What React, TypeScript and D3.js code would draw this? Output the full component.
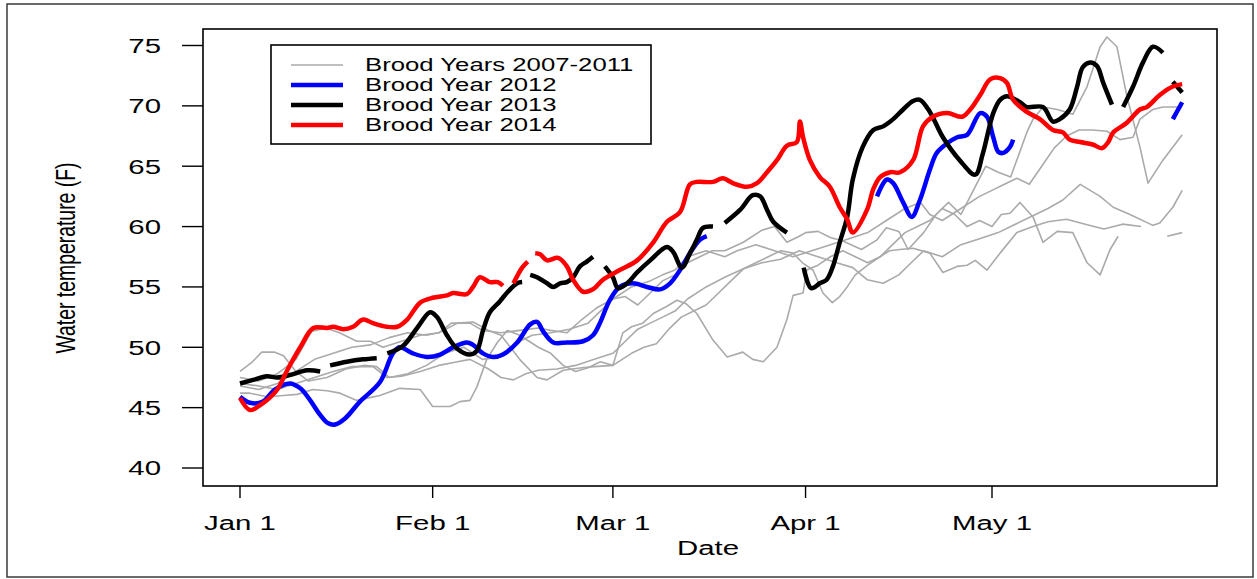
import React from "react";
import * as d3 from "d3";

type Pt = [number, number] | null;

// Day-of-year (0 = Jan 1, leap-year calendar) and water temperature (F)
const dateTickDays = [0, 31, 60, 91, 121];
const dateTickLabels = ["Jan 1", "Feb 1", "Mar 1", "Apr 1", "May 1"];
const tempTicks = [40, 45, 50, 55, 60, 65, 70, 75];

const legendLabels = ["Brood Years 2007-2011", "Brood Year 2012", "Brood Year 2013", "Brood Year 2014"];

const gray2007: Pt[] = [
  [0, 48.0], [2, 48.8], [3.5, 49.6], [5.5, 49.6], [7, 49.3], [9, 48.0], [11, 47.2], [14, 47.5], [17, 48.2],
  [20, 48.5], [22, 48.4], [24, 47.5], [27, 47.8], [30, 48.5], [33, 49.5], [36, 50.0], [39, 49.0], [42, 49.2],
  [45, 50.5], [47, 51.0], [50, 51.2], [53, 51.5], [56, 52.0], [58, 53.0], [60, 54.0], [62, 54.2], [64, 53.5],
  [66, 54.5], [68, 55.5], [70, 56.0], [72, 57.0], [74, 57.5], [76, 58.0], [78, 58.0], [81, 58.7], [84, 59.7],
  [86, 60.0], [88, 58.7], [90, 59.2], [91, 59.5], [93, 59.6], [95, 59.1], [97, 58.8], [100, 58.1], [102.5, 58.9],
  [104, 59.9], [106, 59.6], [107.5, 58.1], [110, 59.5], [112, 61.0], [114, 62.0], [116, 61.0], [118, 63.0],
  [120, 65.0], [122, 64.5], [124, 64.1], [126.6, 67.8], [127.6, 68.9], [129.2, 69.9], [131.5, 69.7], [134, 69.3],
  [136.3, 71.6], [138.4, 74.9], [139.5, 75.7], [141.1, 74.9], [142.7, 70.8], [144.8, 66.6], [146.1, 63.6],
  [148.5, 65.5], [151.6, 67.6],
];
const gray2008: Pt[] = [
  [0, 46.2], [1.6, 46.2], [4.3, 45.9], [7, 46.0], [9.2, 46.1], [11.7, 46.5], [14, 46.4], [16.1, 46.2],
  [18.8, 45.6], [22.5, 46.0], [25.7, 46.6], [29, 46.5], [31, 45.1], [33.8, 45.1], [35.4, 45.5], [37, 45.6],
  [38.1, 46.7], [39.7, 49.0], [41.4, 50.4], [43, 51.4], [45, 51.0], [48, 50.0], [50, 49.5], [52, 48.5], [54, 48.0],
  [56, 48.3], [58, 48.8], [60, 48.5], [61.6, 51.2], [63, 51.7], [64.8, 52.0], [66.5, 52.8], [68.7, 53.4],
  [70.3, 53.9], [71.8, 53.6], [73.5, 52.8], [76.1, 50.6], [78.4, 49.2], [80.9, 49.6], [82.5, 49.0], [84.2, 48.8],
  [86.4, 50.0], [88, 52.3], [89, 54.3], [90.6, 54.5], [91.2, 56.4], [93, 56.8], [95, 57.5], [97, 58.0], [99, 57.5],
  [101, 57.0], [103, 57.5], [104.5, 58.0], [106.2, 58.1], [108.3, 58.2], [111, 57.8], [113.1, 56.2], [115.4, 56.7],
  [117, 56.8], [118.3, 57.2], [120.2, 56.4], [122.3, 57.8], [125, 59.5], [127.6, 60.0], [130, 60.4], [133, 60.6],
  [136, 60.2], [139, 59.8], [142, 60.2], [145, 60.0],
  null,
  [149.2, 59.2], [151.6, 59.5],
];
const gray2009: Pt[] = [
  [0, 47.5], [3, 47.2], [6, 47.8], [9, 49.0], [11.5, 51.3], [13.8, 51.6], [16, 51.2], [18.8, 50.5], [21, 50.5],
  [23, 50.0], [26, 50.5], [29, 51.0], [32, 51.2], [34, 52.0], [37, 52.0], [39, 51.4], [42, 51.2], [45, 51.4],
  [48, 51.6], [50, 51.4], [52.6, 51.2], [55, 52.3], [57.5, 53.3], [60, 54.0], [63, 55.0], [66, 55.5], [68, 56.0],
  [70, 56.4], [72, 57.5], [75, 58.0], [78, 57.5], [80, 58.0], [83, 58.5], [86, 58.0], [89, 57.5], [92, 58.0],
  [95, 58.5], [98, 59.0], [101, 59.5], [104, 60.5], [107, 61.5], [109.5, 62.0], [111, 61.0], [113, 60.5],
  [116, 61.5], [119, 62.5], [121, 63.0], [123, 63.5], [125, 64.0], [127, 63.5], [129, 65.0], [131, 66.5],
  [133, 67.5], [135, 68.0], [137.2, 68.0], [139.5, 67.9], [141.6, 67.2], [143.7, 67.4], [144.8, 68.9],
  [146.9, 69.7], [148.5, 69.9], [151.6, 69.9],
];
const gray2010: Pt[] = [
  [0, 47.0], [3, 46.8], [6, 46.5], [9, 47.0], [12, 47.5], [15, 48.0], [18, 48.4], [21.4, 48.4], [23.6, 47.5],
  [26, 47.6], [29, 48.0], [32, 48.5], [35, 48.8], [37, 49.0], [40, 48.2], [42, 47.5], [44, 47.3], [46, 47.8],
  [48, 48.1], [51, 48.2], [54, 48.5], [57, 49.0], [60, 49.5], [62, 50.5], [64, 51.5], [66, 52.0], [68, 52.5],
  [70, 53.0], [72, 54.0], [75, 55.0], [78, 55.8], [81, 56.5], [84, 57.0], [87, 57.3], [90, 58.0], [93, 57.5],
  [96, 57.0], [98.6, 56.6], [100.9, 55.6], [103.5, 55.3], [106, 56.0], [108, 57.0], [110, 58.0], [113, 57.5],
  [116, 58.5], [119, 59.0], [122, 59.5], [124, 60.0], [128, 61.0], [130, 61.5], [132.4, 62.2], [135.2, 63.5],
  [138.4, 62.5], [140.5, 61.6], [143.2, 61.0], [146.9, 60.1], [148, 60.3], [150.1, 61.6], [151.6, 63.0],
];
const gray2011: Pt[] = [
  [0, 46.8], [3, 46.5], [6, 47.0], [9, 48.0], [12, 49.0], [15, 49.5], [18, 50.0], [21, 50.2], [24, 50.8],
  [27, 51.2], [30, 51.0], [32, 51.2], [35, 52.0], [37.5, 52.1], [40, 51.4], [42, 51.0], [43.5, 50.0], [45, 49.0],
  [47.8, 47.5], [49.4, 47.3], [52, 48.1], [55, 48.3], [57, 48.4], [60, 48.5], [63, 49.5], [65, 50.0], [67, 50.3],
  [69, 51.5], [71, 52.5], [73, 53.0], [75, 53.5], [77, 54.5], [79, 55.5], [81, 56.5], [83, 57.0], [85, 57.5],
  [87, 58.0], [89, 57.8], [90.5, 57.0], [92.2, 56.4], [93.8, 54.5], [95.3, 53.7], [96.5, 54.2], [97.7, 55.0],
  [99, 56.0], [101, 56.8], [103, 57.5], [105, 58.5], [107, 59.5], [109, 60.0], [111, 60.5], [113, 61.5],
  [115, 61.0], [117, 60.0], [119, 60.5], [121, 60.0], [122.5, 61.0], [123.9, 61.1], [125.5, 62.0], [127.6, 60.8],
  [129.2, 58.7], [131.5, 59.6], [134, 59.5], [136.3, 57.0], [138.4, 56.0], [140, 58.1], [141.3, 59.2],
];

const by2012: Pt[] = [
  [0, 45.9], [1.6, 45.4], [3.7, 45.5], [5.6, 46.5], [8, 47.0], [9.7, 46.6], [11.3, 45.6], [12.9, 44.4],
  [14.2, 43.7], [15.3, 43.6], [16.9, 44.1], [19.3, 45.5], [22.5, 47.1], [24.6, 49.5], [25.7, 50.0], [27.8, 49.5],
  [30.1, 49.2], [32.2, 49.4], [34.3, 50.0], [36.5, 50.4], [37.5, 50.2], [39.1, 49.5], [40.7, 49.2], [42.3, 49.4],
  [44.6, 50.4], [46.7, 51.9], [47.8, 52.1], [48.8, 51.3], [50.4, 50.4], [52.6, 50.4], [55.2, 50.5], [56.8, 51.0],
  [57.9, 52.0], [59.5, 53.9], [61.1, 55.0], [63.2, 55.3], [65.5, 55.0], [67.6, 54.8], [69.2, 55.3], [70.8, 56.4],
  [72.4, 57.8], [74, 58.9], [75.1, 59.2],
  null,
  [102.5, 62.5], [104.1, 63.9], [105.1, 63.6], [106.7, 62.0], [108.1, 60.8], [109.4, 62.2], [111, 64.7],
  [112.1, 66.1], [113.8, 66.9], [115.4, 67.4], [117, 67.6], [119.1, 69.4], [120.2, 69.1], [121.2, 67.4],
  [122, 66.2], [122.8, 66.1], [123.9, 66.6], [124.4, 67.2],
  null,
  [150.1, 68.9], [151.6, 70.3],
];

const by2013: Pt[] = [
  [0, 47.0], [2.1, 47.3], [4.3, 47.6], [6, 47.5], [8, 47.7], [10.8, 48.1], [12.9, 48.0],
  null,
  [14.5, 48.5], [17.2, 48.8], [19.8, 49.0], [22, 49.1],
  null,
  [23.7, 49.5], [26.2, 50.1], [28.5, 51.6], [30.6, 52.9], [31.7, 52.5], [33.3, 51.0], [34.9, 49.9], [37, 49.4],
  [38.1, 49.7], [39.1, 51.4], [40.2, 52.9], [41.8, 53.8], [43.1, 54.6], [44.6, 55.3], [45.4, 55.4],
  null,
  [46.7, 56.0], [47.8, 55.8], [49.4, 55.3], [50.4, 55.0], [51.5, 55.3], [52.6, 55.4], [53.6, 55.8], [54.7, 56.7],
  [55.8, 57.1], [56.8, 57.5],
  null,
  [58.7, 56.7], [60, 55.8], [60.8, 54.9], [62.3, 55.3], [63.9, 56.2], [66, 57.2], [68.7, 58.3], [69.7, 57.9],
  [71.1, 56.6], [72.4, 57.8], [73.5, 58.9], [74.5, 59.9], [76.1, 60.0],
  null,
  [78, 60.3], [80.5, 61.4], [82.5, 62.6], [83.7, 62.5], [84.8, 61.4], [85.8, 60.4], [88, 59.5],
  null,
  [90.7, 56.6], [91.9, 54.9], [93.3, 55.3], [94.4, 55.6], [95.4, 56.7], [96.5, 58.7], [97.7, 60.8], [98.6, 63.9],
  [100.2, 66.6], [101.9, 68.0], [103.5, 68.3], [105.1, 68.9], [106.7, 69.7], [108.3, 70.4], [109.4, 70.5],
  [111, 69.5], [113.1, 67.4], [115.8, 65.5], [118.3, 64.3], [119.5, 66.0], [121.2, 69.4], [122.3, 70.5],
  [123.4, 70.8], [125.5, 70.3], [126.6, 69.9], [129.2, 69.9], [130.8, 68.7], [131.9, 68.9], [133.5, 69.7],
  [134.7, 71.6], [135.6, 73.2], [136.8, 73.6], [137.9, 73.3], [138.9, 71.9], [140.3, 70.1],
  null,
  [142.1, 69.9], [143.7, 71.6], [145.3, 73.6], [146.9, 74.9], [148.5, 74.4],
  null,
  [150.1, 72.0], [151.6, 71.1],
];

const by2014: Pt[] = [
  [0, 45.8], [1.6, 44.8], [3.2, 45.2], [4.3, 45.6], [6, 46.5], [7.6, 48.1], [9.7, 50.0], [11.8, 51.6],
  [14, 51.6], [15, 51.7], [16.6, 51.5], [18.2, 51.7], [19.8, 52.3], [21.4, 52.0], [23.6, 51.7], [25.3, 51.7],
  [26.9, 52.3], [29, 53.7], [31, 54.1], [33.3, 54.3], [34.3, 54.5], [36.5, 54.4], [37.5, 55.0], [38.6, 55.8],
  [40.2, 55.4], [41.5, 55.4], [42.3, 55.1],
  null,
  [44, 55.3], [45.4, 56.6], [46.3, 57.1],
  null,
  [47.5, 57.8], [48.3, 57.7], [49.4, 57.2], [51.2, 57.4], [52.6, 56.7], [53.6, 55.6], [55.2, 54.6], [56.8, 54.8],
  [58.4, 55.6], [61.1, 56.4], [63.9, 57.2], [66.5, 58.7], [68.7, 60.4], [70.8, 61.2], [72.4, 63.5], [73.5, 63.7],
  [76.1, 63.7], [77.7, 64.0], [79.3, 63.6], [81.6, 63.3], [83.2, 63.6], [84.8, 64.5], [86.4, 65.5], [88, 66.7],
  [89.6, 67.0], [90.1, 68.7], [90.6, 67.4], [91.7, 65.5], [93.3, 64.1], [94.9, 63.3], [96.5, 61.6], [97.7, 60.6],
  [98.6, 59.5], [100.9, 61.4], [101.9, 63.1], [103, 64.1], [104.6, 64.5], [106.2, 64.5], [108.3, 65.5],
  [109.9, 68.3], [111.5, 69.1], [113.8, 69.4], [116.2, 69.1], [117.5, 69.7], [119.1, 70.9], [120.7, 72.2],
  [122.3, 72.3], [123.4, 71.9], [124.4, 70.5], [126.6, 69.5], [128.7, 68.9], [130.8, 68.0], [132.4, 67.8],
  [133.5, 67.2], [135.2, 67.0], [137.2, 66.8], [138.7, 66.5], [139.7, 67.0], [140.5, 67.8], [142.7, 68.6],
  [144.8, 69.7], [145.9, 69.9], [148, 70.9], [150.1, 71.6], [151.6, 71.8],
];

const graySeries = [gray2007, gray2008, gray2009, gray2010, gray2011];
const brood = [
  { data: by2012, color: "#0000ff" },
  { data: by2013, color: "#000000" },
  { data: by2014, color: "#ff0000" },
];

const SX = 1.47; // horizontal stretch of the original figure

function SText(props: { x: number; y: number; size: number; anchor?: string; children: React.ReactNode }) {
  const { x, y, size, anchor = "start", children } = props;
  return (
    <text
      transform={`translate(${x},${y}) scale(${SX},1)`}
      fontSize={size}
      textAnchor={anchor}
      fontFamily="'Liberation Sans', Arial, sans-serif"
      fill="#000"
    >
      {children}
    </text>
  );
}

export default function App() {
  const left = 203, right = 1217, top = 29, bottom = 486;
  const x = d3.scaleLinear().domain([0, 121]).range([240, 992]);
  const y = d3.scaleLinear().domain([40, 75]).range([468, 45.5]);

  const grayLine = d3
    .line<Pt>()
    .defined((d) => d !== null)
    .x((d) => x(d![0]))
    .y((d) => y(d![1]))
    .curve(d3.curveLinear);
  const colLine = d3
    .line<Pt>()
    .defined((d) => d !== null)
    .x((d) => x(d![0]))
    .y((d) => y(d![1]))
    .curve(d3.curveCatmullRom.alpha(0.5));

  const legendColors = ["#aaaaaa", "#0000ff", "#000000", "#ff0000"];
  const legendWidths = [1.6, 4.5, 4.5, 4.5];
  const legendRowY = [65, 85, 105, 125];

  return (
    <svg width={1257} height={579} style={{ position: "absolute", left: 0, top: 0, background: "#fff" }}>
      <rect x={0} y={0} width={1257} height={579} fill="#fff" />
      <rect x={7} y={4} width={1246} height={573} fill="none" stroke="#3a3a3a" strokeWidth={1.5} />

      <defs>
        <clipPath id="plotclip">
          <rect x={left} y={top} width={right - left} height={bottom - top} />
        </clipPath>
      </defs>

      <g clipPath="url(#plotclip)">
        {graySeries.map((s, i) => (
          <path key={"g" + i} d={grayLine(s) || ""} fill="none" stroke="#aaaaaa" strokeWidth={1.6} strokeLinejoin="round" />
        ))}
        {brood.map((s, i) => (
          <path key={"b" + i} d={colLine(s.data) || ""} fill="none" stroke={s.color} strokeWidth={4.5} strokeLinejoin="round" strokeLinecap="butt" />
        ))}
      </g>

      <rect x={left} y={top} width={right - left} height={bottom - top} fill="none" stroke="#000" strokeWidth={1.6} />

      {tempTicks.map((t) => (
        <g key={"yt" + t}>
          <line x1={182} x2={left} y1={y(t)} y2={y(t)} stroke="#000" strokeWidth={1.4} />
          <SText x={161} y={y(t) + 7.3} size={20} anchor="end">{t}</SText>
        </g>
      ))}

      {dateTickDays.map((d, i) => (
        <g key={"xt" + d}>
          <line x1={x(d)} x2={x(d)} y1={bottom} y2={498} stroke="#000" strokeWidth={1.4} />
          <SText x={x(d)} y={530} size={20} anchor="middle">{dateTickLabels[i]}</SText>
        </g>
      ))}

      <SText x={708} y={555} size={20} anchor="middle">Date</SText>

      <text
        transform={`translate(75,258) scale(${SX},1) rotate(-90)`}
        fontSize={19.4}
        textAnchor="middle"
        fontFamily="'Liberation Sans', Arial, sans-serif"
        fill="#000"
      >
        Water temperature (F)
      </text>

      <rect x={271} y={45} width={380} height={99} fill="#fff" stroke="#000" strokeWidth={1.6} />
      {legendLabels.map((lab, i) => (
        <g key={"lg" + i}>
          <line x1={291} x2={343} y1={legendRowY[i]} y2={legendRowY[i]} stroke={legendColors[i]} strokeWidth={legendWidths[i]} />
          <SText x={365} y={legendRowY[i] + 6.3} size={17.5}>{lab}</SText>
        </g>
      ))}
    </svg>
  );
}
